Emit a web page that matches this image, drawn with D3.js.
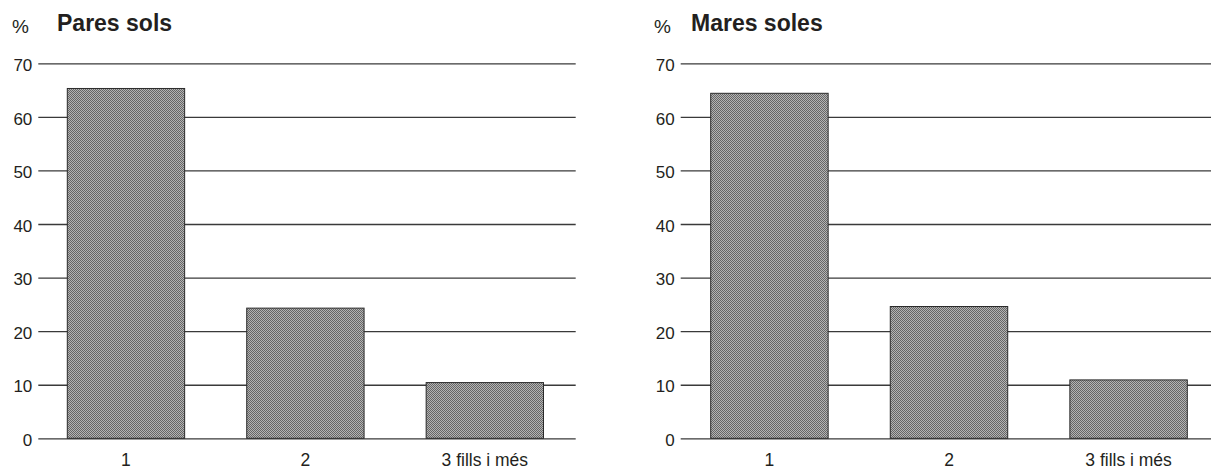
<!DOCTYPE html>
<html>
<head>
<meta charset="utf-8">
<script src="https://cdn.jsdelivr.net/npm/d3@7"></script>
<style>
  html, body { margin: 0; padding: 0; background: #fff; }
  svg text { font-family: "Liberation Sans", Arial, Helvetica, sans-serif; fill: #231f20; }
</style>
</head>
<body>
<svg id="chart" width="1211" height="470"></svg>
<script>
// ---- data ----
const categories = ["1", "2", "3 fills i més"];
const titles = ["Pares sols", "Mares soles"];
const paresSols = [65.3, 24.3, 10.4];
const maresSoles = [64.4, 24.6, 10.9];
const yTicks = [0, 10, 20, 30, 40, 50, 60, 70];

const svg = d3.select("#chart");

// checker pattern for the bars
const defs = svg.append("defs");
const pat = defs.append("pattern")
  .attr("id", "checker").attr("width", 2).attr("height", 2)
  .attr("patternUnits", "userSpaceOnUse");
pat.append("rect").attr("width", 2).attr("height", 2).attr("fill", "#b4b4b4");
pat.append("rect").attr("x", 0).attr("y", 0).attr("width", 1).attr("height", 1).attr("fill", "#666666");
pat.append("rect").attr("x", 1).attr("y", 1).attr("width", 1).attr("height", 1).attr("fill", "#666666");

const y = d3.scaleLinear().domain([0, 70]).range([438.3, 63.3]);

const panels = [
  { title: titles[0], values: paresSols, gridX0: 38.3, gridX1: 575.7, barX0: 67.3, barX1: 543.5, pctX: 12, titleX: 57 },
  { title: titles[1], values: maresSoles, gridX0: 680.7, gridX1: 1211, barX0: 710.7, barX1: 1187.3, pctX: 654, titleX: 691 }
];

panels.forEach(p => {
  const g = svg.append("g");
  const x = d3.scaleBand().domain(categories).range([p.barX0, p.barX1])
    .paddingInner(0.346).paddingOuter(0);

  // y axis with gridlines
  const yAxis = d3.axisLeft(y).tickValues(yTicks)
    .tickSizeInner(-(p.gridX1 - p.gridX0)).tickSizeOuter(0).tickPadding(6);
  const ya = g.append("g").attr("transform", `translate(${p.gridX0},0)`).call(yAxis);
  ya.select(".domain").remove();
  ya.selectAll(".tick line").attr("stroke", "#3a3a3a").attr("stroke-width", 1.3);
  ya.selectAll(".tick text").attr("font-size", 17).attr("dy", "0.42em").attr("fill", "#231f20");

  // bars
  g.selectAll("rect.bar").data(p.values).enter().append("rect")
    .attr("class", "bar")
    .attr("x", (d, i) => x(categories[i]))
    .attr("width", x.bandwidth())
    .attr("y", d => y(d))
    .attr("height", d => y(0) - y(d))
    .attr("fill", "url(#checker)")
    .attr("stroke", "#2a2a2a").attr("stroke-width", 1);

  // x axis labels
  const xAxis = d3.axisBottom(x).tickSize(0).tickPadding(0);
  const xa = g.append("g").attr("transform", `translate(0,${y(0)})`).call(xAxis);
  xa.select(".domain").remove();
  xa.selectAll(".tick text").attr("font-size", 17.5).attr("dy", null).attr("y", 27.5).attr("fill", "#231f20");

  // % and title
  g.append("text").attr("x", p.pctX).attr("y", 33).attr("font-size", 19).text("%");
  g.append("text").attr("x", p.titleX).attr("y", 30.5).attr("font-size", 23)
    .attr("font-weight", "bold").text(p.title);
});
</script>
</body>
</html>
